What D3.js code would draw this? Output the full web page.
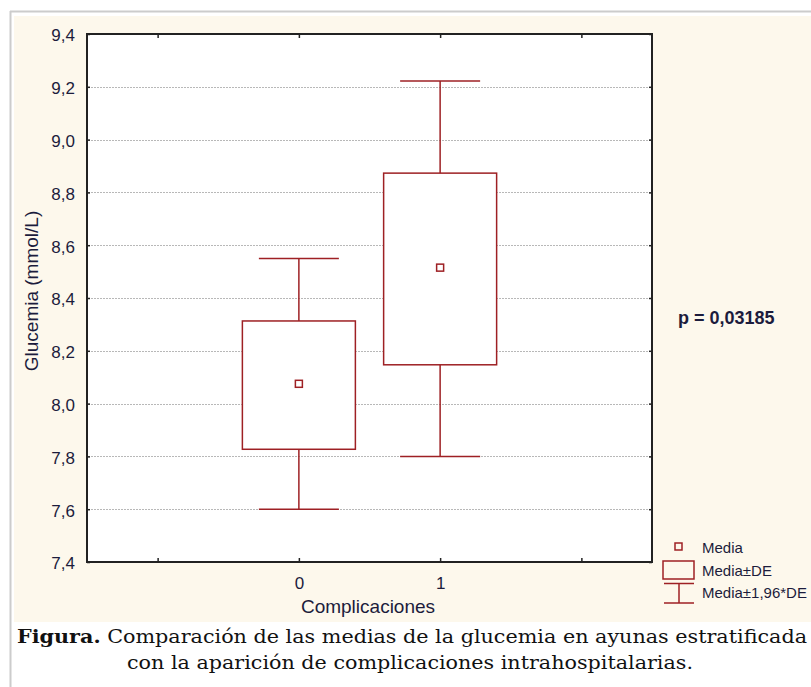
<!DOCTYPE html>
<html>
<head>
<meta charset="utf-8">
<script src="https://cdn.jsdelivr.net/npm/d3@7"></script>
<style>
  body { margin: 0; background: #fff; }
  svg { display: block; }
</style>
</head>
<body>
<div id="chart"></div>
<script>
// datos
var categories = ["0", "1"];
var media = [8.075, 8.515];
var deLow = [7.827, 8.147];
var deHigh = [8.313, 8.873];
var ciLow = [7.600, 7.800];
var ciHigh = [8.550, 9.222];
var yTicks = [7.4, 7.6, 7.8, 8.0, 8.2, 8.4, 8.6, 8.8, 9.0, 9.2, 9.4];
var xTicks = [-1, 0, 1, 2];
var legendLabels = ["Media", "Media±DE", "Media±1,96*DE"];

var W = 811, H = 687;
var red = "#9e2024";
var txt = "#1c1c3c";
var sans = "'Liberation Sans', Arial, sans-serif";

var svg = d3.select("#chart").append("svg")
    .attr("width", W)
    .attr("height", H);

// marco exterior y fondo crema
svg.append("line").attr("x1", 10).attr("x2", W).attr("y1", 11.5).attr("y2", 11.5)
    .attr("stroke", "#cccccc").attr("stroke-width", 2);
svg.append("line").attr("x1", 10.5).attr("x2", 10.5).attr("y1", 11).attr("y2", H)
    .attr("stroke", "#cccccc").attr("stroke-width", 2);
svg.append("rect").attr("x", 14).attr("y", 16).attr("width", W - 14).attr("height", 606)
    .attr("fill", "#fdf8ec");

var x = d3.scaleLinear().domain([-1.5, 2.5]).range([87, 652]);
var y = d3.scaleLinear().domain([7.4, 9.4]).range([562, 34]);

// área de trazado
svg.append("rect").attr("x", 87).attr("y", 34).attr("width", 565).attr("height", 528)
    .attr("fill", "#fff");

// líneas de rejilla
svg.append("g").selectAll("line")
    .data(yTicks.filter(function(d) { return d > 7.45 && d < 9.35; }))
    .enter().append("line")
    .attr("x1", 88).attr("x2", 651)
    .attr("y1", function(d) { return Math.round(y(d)) + 0.5; })
    .attr("y2", function(d) { return Math.round(y(d)) + 0.5; })
    .attr("stroke", "#b8b8b8")
    .attr("stroke-dasharray", "2,1");

// ejes
var yAxisL = d3.axisLeft(y).tickValues(yTicks).tickSize(-3).tickPadding(12)
    .tickFormat(function(d) { return d3.format(".1f")(d).replace(".", ","); });
var gy = svg.append("g").attr("transform", "translate(87,0)").call(yAxisL);
var yAxisR = d3.axisRight(y).tickValues(yTicks).tickSize(-3).tickFormat("");
var gyr = svg.append("g").attr("transform", "translate(652,0)").call(yAxisR);

var xAxisB = d3.axisBottom(x).tickValues(xTicks).tickSize(-4).tickPadding(15)
    .tickFormat(function(d) { return (d === 0 || d === 1) ? categories[d] : ""; });
var gx = svg.append("g").attr("transform", "translate(0,562)").call(xAxisB);
var xAxisT = d3.axisTop(x).tickValues(xTicks).tickSize(-4).tickFormat("");
var gxt = svg.append("g").attr("transform", "translate(0,34)").call(xAxisT);

[gy, gyr, gx, gxt].forEach(function(g) {
  g.select(".domain").remove();
  g.selectAll(".tick line").attr("stroke", "#222").attr("stroke-width", 1.5);
  g.selectAll("text").attr("fill", txt)
    .style("font-family", sans)
    .style("font-size", "17px");
});
gy.selectAll("text").attr("dy", "0.4em");

svg.append("rect").attr("x", 87).attr("y", 34).attr("width", 565).attr("height", 528)
    .attr("fill", "none").attr("stroke", "#222").attr("stroke-width", 2);

// etiquetas de ejes
svg.append("text")
    .attr("transform", "translate(38,291) rotate(-90)")
    .attr("text-anchor", "middle")
    .attr("fill", txt)
    .style("font-family", sans)
    .style("font-size", "19px")
    .text("Glucemia (mmol/L)");

svg.append("text")
    .attr("x", 368).attr("y", 613)
    .attr("text-anchor", "middle")
    .attr("fill", txt)
    .style("font-family", sans)
    .style("font-size", "19px")
    .text("Complicaciones");

// cajas y bigotes
var boxW = 113, capW = 80;
var groups = svg.append("g").selectAll("g")
    .data(categories.map(function(c, i) { return i; }))
    .enter().append("g");

groups.append("line")
    .attr("x1", function(i) { return x(i); })
    .attr("x2", function(i) { return x(i); })
    .attr("y1", function(i) { return y(ciHigh[i]); })
    .attr("y2", function(i) { return y(ciLow[i]); })
    .attr("stroke", red).attr("stroke-width", 1.5);

groups.append("line")
    .attr("x1", function(i) { return x(i) - capW / 2; })
    .attr("x2", function(i) { return x(i) + capW / 2; })
    .attr("y1", function(i) { return y(ciHigh[i]); })
    .attr("y2", function(i) { return y(ciHigh[i]); })
    .attr("stroke", red).attr("stroke-width", 1.5);

groups.append("line")
    .attr("x1", function(i) { return x(i) - capW / 2; })
    .attr("x2", function(i) { return x(i) + capW / 2; })
    .attr("y1", function(i) { return y(ciLow[i]); })
    .attr("y2", function(i) { return y(ciLow[i]); })
    .attr("stroke", red).attr("stroke-width", 1.5);

groups.append("rect")
    .attr("x", function(i) { return x(i) - boxW / 2; })
    .attr("y", function(i) { return y(deHigh[i]); })
    .attr("width", boxW)
    .attr("height", function(i) { return y(deLow[i]) - y(deHigh[i]); })
    .attr("fill", "#fff")
    .attr("stroke", red).attr("stroke-width", 1.5);

groups.append("rect")
    .attr("x", function(i) { return x(i) - 3.5; })
    .attr("y", function(i) { return y(media[i]) - 3.5; })
    .attr("width", 7).attr("height", 7)
    .attr("fill", "#fff")
    .attr("stroke", red).attr("stroke-width", 1.5);

// valor p
svg.append("text")
    .attr("x", 678).attr("y", 324)
    .attr("fill", txt)
    .style("font-family", sans)
    .style("font-size", "18px")
    .style("font-weight", "bold")
    .text("p = 0,03185");

// leyenda
var lg = svg.append("g");
lg.append("rect").attr("x", 675).attr("y", 543).attr("width", 7).attr("height", 7)
    .attr("fill", "none").attr("stroke", red).attr("stroke-width", 1.5);
lg.append("rect").attr("x", 663).attr("y", 561).attr("width", 31).attr("height", 18)
    .attr("fill", "none").attr("stroke", red).attr("stroke-width", 1.5);
lg.append("line").attr("x1", 664).attr("x2", 694).attr("y1", 583.5).attr("y2", 583.5)
    .attr("stroke", red).attr("stroke-width", 1.5);
lg.append("line").attr("x1", 664).attr("x2", 694).attr("y1", 603).attr("y2", 603)
    .attr("stroke", red).attr("stroke-width", 1.5);
lg.append("line").attr("x1", 679).attr("x2", 679).attr("y1", 583.5).attr("y2", 603)
    .attr("stroke", red).attr("stroke-width", 1.5);
lg.selectAll("text").data(legendLabels).enter().append("text")
    .attr("x", 702)
    .attr("y", function(d, i) { return 553 + i * 22.5; })
    .attr("fill", txt)
    .style("font-family", sans)
    .style("font-size", "15px")
    .text(function(d) { return d; });

// pie de figura
var cap = svg.append("text")
    .attr("x", 17).attr("y", 643)
    .attr("fill", "#111")
    .style("font-family", "'DejaVu Serif', 'Liberation Serif', serif")
    .style("font-size", "18px")
    .attr("textLength", 790)
    .attr("lengthAdjust", "spacingAndGlyphs");
cap.append("tspan").style("font-weight", "bold").text("Figura.");
cap.append("tspan").text(" Comparación de las medias de la glucemia en ayunas estratificada");

svg.append("text")
    .attr("x", 127).attr("y", 669)
    .attr("fill", "#111")
    .style("font-family", "'DejaVu Serif', 'Liberation Serif', serif")
    .style("font-size", "18px")
    .attr("textLength", 566)
    .attr("lengthAdjust", "spacingAndGlyphs")
    .text("con la aparición de complicaciones intrahospitalarias.");
</script>
</body>
</html>
